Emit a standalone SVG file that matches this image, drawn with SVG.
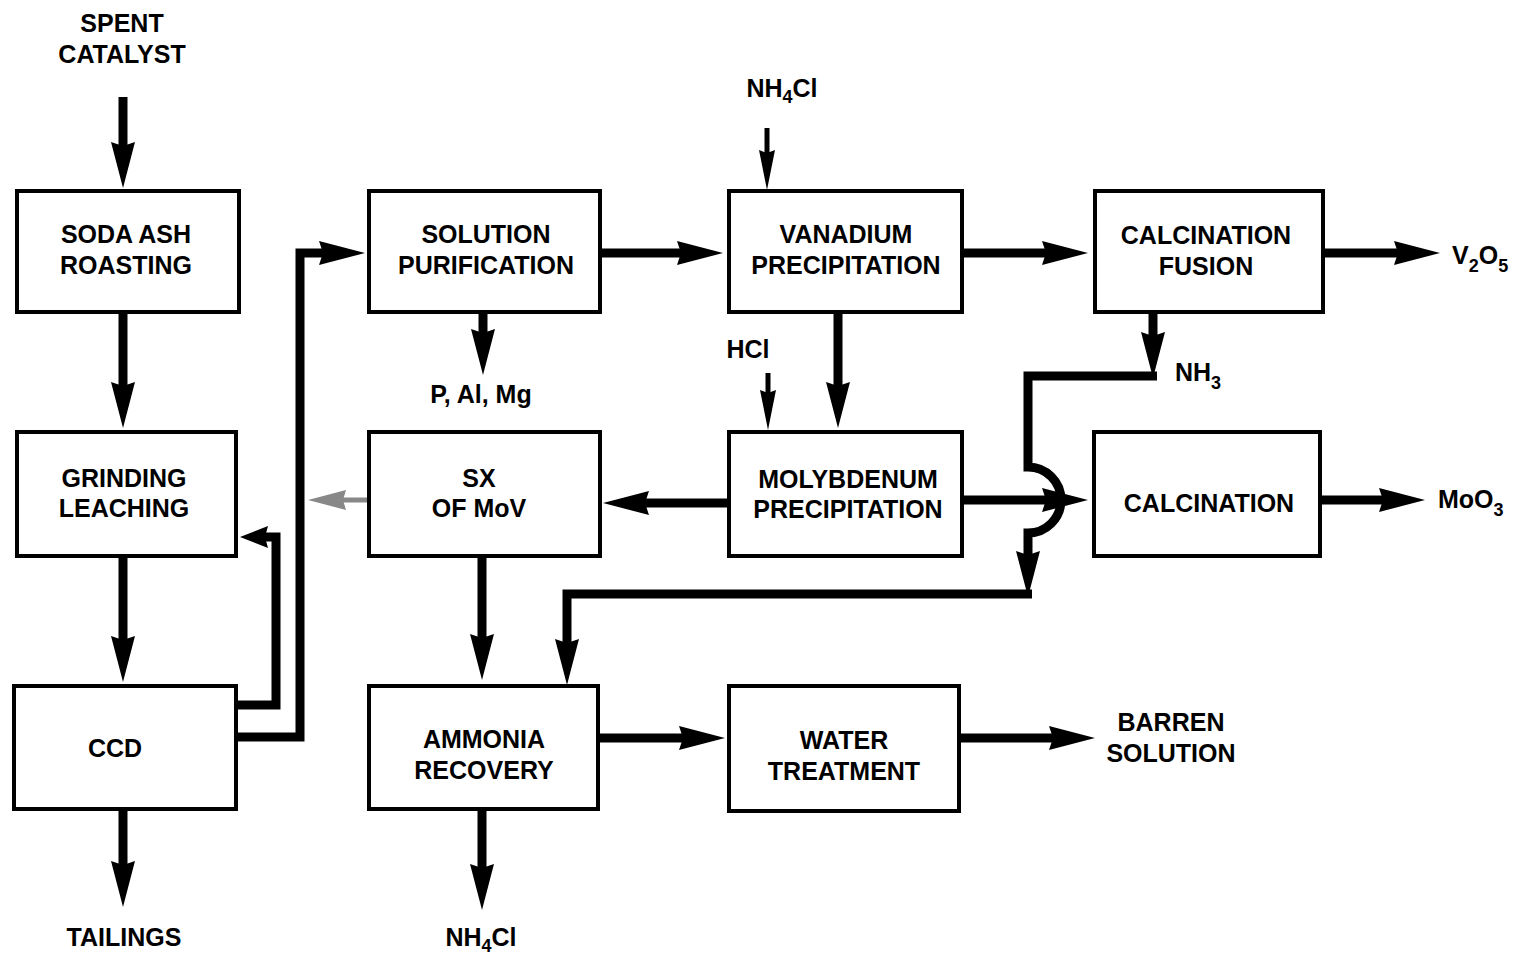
<svg xmlns="http://www.w3.org/2000/svg" width="1519" height="955" viewBox="0 0 1519 955">
<style>
.box{fill:#fff;stroke:#000;stroke-width:4}
.t{font-family:"Liberation Sans",Arial,Helvetica,sans-serif;font-weight:bold;font-size:25px;fill:#000}
.m{text-anchor:middle}
.c{fill:none;stroke:#000;stroke-width:9;stroke-linejoin:miter}
.cs{fill:none;stroke:#000;stroke-width:5}
.cg{fill:none;stroke:#888;stroke-width:5}
.sub{font-size:18px}
</style>
<defs>
<marker id="ah" viewBox="0 0 46 24" markerWidth="46" markerHeight="24" refX="16" refY="12" orient="auto" markerUnits="userSpaceOnUse"><path d="M0,0 L46,12 L0,24 L4,12 Z" fill="#000"/></marker>
<marker id="am" viewBox="0 0 28 22" markerWidth="28" markerHeight="22" refX="10" refY="11" orient="auto" markerUnits="userSpaceOnUse"><path d="M0,0 L28,11 L0,22 L3,11 Z" fill="#000"/></marker>
<marker id="as" viewBox="0 0 40 16" markerWidth="40" markerHeight="16" refX="15" refY="8" orient="auto" markerUnits="userSpaceOnUse"><path d="M0,0 L40,8 L0,16 L3,8 Z" fill="#000"/></marker>
<marker id="ag" viewBox="0 0 38 20" markerWidth="38" markerHeight="20" refX="12" refY="10" orient="auto" markerUnits="userSpaceOnUse"><path d="M0,0 L38,10 L0,20 L3,10 Z" fill="#888"/></marker>
</defs>
<rect width="1519" height="955" fill="#fff"/>
<g id="connectors">
<path class="c" d="M123,97 V158" marker-end="url(#ah)"/>
<path class="c" d="M123,313 V398" marker-end="url(#ah)"/>
<path class="c" d="M123,556 V652" marker-end="url(#ah)"/>
<path class="c" d="M123,810 V877" marker-end="url(#ah)"/>
<path class="c" d="M237,705 H276 V537 H258" marker-end="url(#am)"/>
<path class="c" d="M237,737 H300 V253 H335" marker-end="url(#ah)"/>
<path class="cg" d="M368,500 H334" marker-end="url(#ag)"/>
<path class="c" d="M483,313 V345" marker-end="url(#ah)"/>
<path class="c" d="M601,253 H693" marker-end="url(#ah)"/>
<path class="cs" d="M767,128 V165" marker-end="url(#as)"/>
<path class="c" d="M838,313 V398" marker-end="url(#ah)"/>
<path class="cs" d="M768,373 V405" marker-end="url(#as)"/>
<path class="c" d="M963,253 H1058" marker-end="url(#ah)"/>
<path class="c" d="M1324,253 H1410" marker-end="url(#ah)"/>
<path class="c" d="M963,500 H1058" marker-end="url(#ah)"/>
<path class="c" d="M1153,313 V348" marker-end="url(#ah)"/>
<path class="c" d="M1157,376 H1028 V467 A33,33 0 0 1 1028,533 V567" marker-end="url(#ah)"/>
<path class="c" d="M1032,594 H567 V655" marker-end="url(#ah)"/>
<path class="c" d="M728,503 H633" marker-end="url(#ah)"/>
<path class="c" d="M482,557 V650" marker-end="url(#ah)"/>
<path class="c" d="M482,810 V880" marker-end="url(#ah)"/>
<path class="c" d="M599,738 H695" marker-end="url(#ah)"/>
<path class="c" d="M960,738 H1065" marker-end="url(#ah)"/>
<path class="c" d="M1321,500 H1395" marker-end="url(#ah)"/>
</g>
<g id="soda-ash-roasting"><rect class="box" x="17" y="191" width="222" height="121"/><text class="t m" x="126" y="243">SODA ASH</text><text class="t m" x="126" y="274">ROASTING</text></g>
<g id="grinding-leaching"><rect class="box" x="17" y="432" width="219" height="124"/><text class="t m" x="124" y="487">GRINDING</text><text class="t m" x="124" y="517">LEACHING</text></g>
<g id="ccd"><rect class="box" x="14" y="686" width="222" height="123"/><text class="t m" x="115" y="757">CCD</text></g>
<g id="solution-purification"><rect class="box" x="369" y="191" width="231" height="121"/><text class="t m" x="486" y="243">SOLUTION</text><text class="t m" x="486" y="274">PURIFICATION</text></g>
<g id="sx-of-mov"><rect class="box" x="369" y="432" width="231" height="124"/><text class="t m" x="479" y="487">SX</text><text class="t m" x="479" y="517">OF MoV</text></g>
<g id="ammonia-recovery"><rect class="box" x="369" y="686" width="229" height="123"/><text class="t m" x="484" y="748">AMMONIA</text><text class="t m" x="484" y="779">RECOVERY</text></g>
<g id="vanadium-precipitation"><rect class="box" x="729" y="191" width="233" height="121"/><text class="t m" x="846" y="243">VANADIUM</text><text class="t m" x="846" y="274">PRECIPITATION</text></g>
<g id="molybdenum-precipitation"><rect class="box" x="729" y="432" width="233" height="124"/><text class="t m" x="848" y="488">MOLYBDENUM</text><text class="t m" x="848" y="518">PRECIPITATION</text></g>
<g id="water-treatment"><rect class="box" x="729" y="686" width="230" height="125"/><text class="t m" x="844" y="749">WATER</text><text class="t m" x="844" y="780">TREATMENT</text></g>
<g id="calcination-fusion"><rect class="box" x="1095" y="191" width="228" height="121"/><text class="t m" x="1206" y="244">CALCINATION</text><text class="t m" x="1206" y="275">FUSION</text></g>
<g id="calcination"><rect class="box" x="1094" y="432" width="226" height="124"/><text class="t m" x="1209" y="512">CALCINATION</text></g>
<g id="labels">
<text class="t m" x="122" y="32">SPENT</text>
<text class="t m" x="122" y="63">CATALYST</text>
<text class="t m" x="124" y="946">TAILINGS</text>
<text class="t m" x="481" y="403">P, Al, Mg</text>
<text class="t m" x="481" y="946">NH<tspan class="sub" dy="6">4</tspan><tspan dy="-6">Cl</tspan></text>
<text class="t m" x="782" y="97">NH<tspan class="sub" dy="6">4</tspan><tspan dy="-6">Cl</tspan></text>
<text class="t m" x="748" y="358">HCl</text>
<text class="t" x="1175" y="381">NH<tspan class="sub" dy="8">3</tspan></text>
<text class="t" x="1452" y="264">V<tspan class="sub" dy="8">2</tspan><tspan dy="-8">O</tspan><tspan class="sub" dy="8">5</tspan></text>
<text class="t" x="1438" y="508">MoO<tspan class="sub" dy="8">3</tspan></text>
<text class="t m" x="1171" y="731">BARREN</text>
<text class="t m" x="1171" y="762">SOLUTION</text>
</g>
</svg>
